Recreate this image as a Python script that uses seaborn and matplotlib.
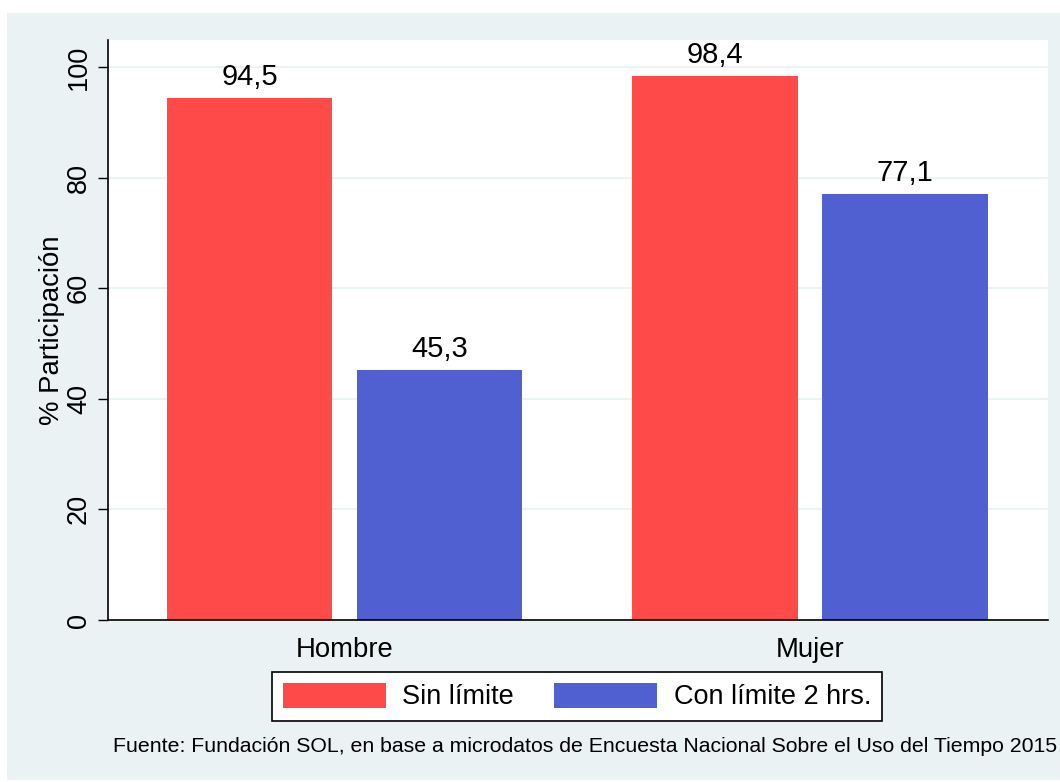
import matplotlib
matplotlib.use("Agg")
import matplotlib.pyplot as plt
from matplotlib.patches import Rectangle
import pandas as pd
import seaborn as sns

# datos
sexo = ["Hombre", "Mujer"]
series = ["Sin límite", "Con límite 2 hrs."]
sin_limite = [94.5, 98.4]
con_limite = [45.3, 77.1]
colores = ["#FF4A4A", "#5060D0"]
fondo = "#EAF2F3"

df = pd.DataFrame({
    "sexo": sexo * 2,
    "serie": [series[0]] * 2 + [series[1]] * 2,
    "valor": sin_limite + con_limite,
})

sns.set_style("white")
plt.rcParams["font.family"] = ["Liberation Sans", "DejaVu Sans"]
plt.rcParams["text.color"] = "black"
plt.rcParams["xtick.color"] = "black"
plt.rcParams["ytick.color"] = "black"
plt.rcParams["axes.labelcolor"] = "black"

fig = plt.figure(figsize=(10.6, 7.82), dpi=100)
fig.patch.set_facecolor("white")
# region gris tipo Stata
fig.patches.append(Rectangle((7 / 1060, 2 / 782), 1 - 7 / 1060, (780 - 13) / 782,
                             transform=fig.transFigure, facecolor=fondo,
                             edgecolor="none", zorder=-10))

ax = fig.add_axes([108 / 1060, 1 - 620 / 782, (1048 - 108) / 1060, (620 - 40) / 782])
ax.set_facecolor("white")

sns.barplot(data=df, x="sexo", y="valor", hue="serie", palette=colores,
            width=0.816, gap=0.13, saturation=1, ax=ax, legend=True,
            edgecolor="none", linewidth=0)

for cont in ax.containers:
    ax.bar_label(cont, labels=[f"{v:.1f}".replace(".", ",") for v in cont.datavalues],
                 padding=5, fontsize=21)

ax.set_ylim(0, 104.9)
ax.set_xlim(-0.508, 1.511)
ax.set_yticks([0, 20, 40, 60, 80, 100])
ax.yaxis.grid(True, color=fondo, linewidth=1.5)
ax.set_axisbelow(True)
ax.tick_params(axis="y", direction="out", length=7, width=1, pad=4.5, labelsize=19.5,
               left=True, color="black")
for lab in ax.get_yticklabels():
    lab.set_rotation(90)
    lab.set_va("center")
ax.tick_params(axis="x", length=0, pad=12, labelsize=19.8)
ax.set_xlabel("")
ax.set_ylabel("% Participación", fontsize=19.8, labelpad=1)

for s in ["top", "right"]:
    ax.spines[s].set_visible(False)
for s in ["left", "bottom"]:
    ax.spines[s].set_color("black")
    ax.spines[s].set_linewidth(1.2)

handles, labels = ax.get_legend_handles_labels()
ax.get_legend().remove()
leg = fig.legend(handles, labels, loc="center", bbox_to_anchor=(577 / 1060, 1 - 696.5 / 782),
                 ncol=2, fontsize=19.5, frameon=True, fancybox=False, framealpha=1,
                 handlelength=3.8, handleheight=1.05, handletextpad=0.6,
                 columnspacing=1.5, borderpad=0.4)
leg.get_frame().set_edgecolor("black")
leg.get_frame().set_linewidth(1.2)
leg.get_frame().set_facecolor("white")

fig.text(113 / 1060, 1 - 747 / 782,
         "Fuente: Fundación SOL, en base a microdatos de Encuesta Nacional Sobre el Uso del Tiempo 2015",
         ha="left", va="center", fontsize=15.3)

fig.savefig("out.png", dpi=100)
